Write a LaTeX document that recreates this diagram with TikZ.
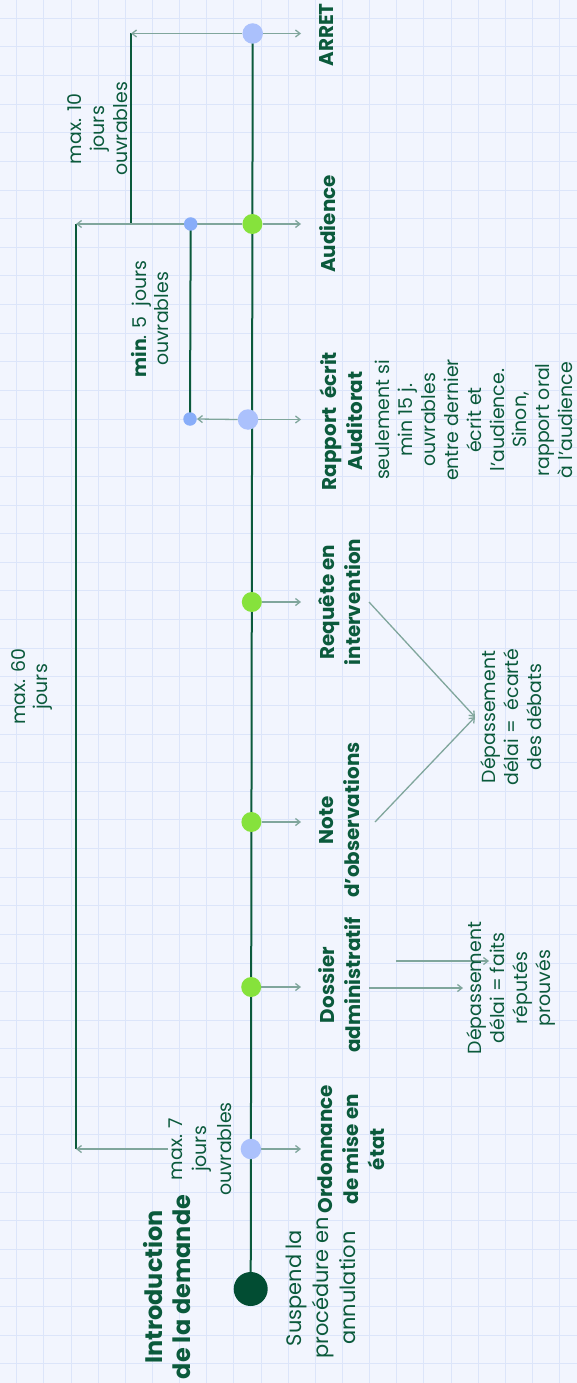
\documentclass[tikz,border=0pt]{standalone}
\usepackage{fontspec}
\setmainfont{Poppins}
\usetikzlibrary{arrows.meta}
\definecolor{bgc}{HTML}{F2F5FE}
\definecolor{gridc}{HTML}{DCE5FA}
\definecolor{dgreen}{HTML}{0B5A3C}
\definecolor{introc}{HTML}{024D33}
\definecolor{lgreen}{HTML}{86E23C}
\definecolor{lblue}{HTML}{ABC1FC}
\definecolor{sblue}{HTML}{88ADF9}
\definecolor{arrc}{HTML}{80A69C}
\pgfdeclarelayer{gridlayer}
\pgfdeclarelayer{linelayer}
\pgfsetlayers{gridlayer,linelayer,main}
\begin{document}
\begin{tikzpicture}[x=1bp,y=-1bp,
  lbl/.style={rotate=90, align=center, text=dgreen, inner sep=0pt, font=\fontsize{20}{26}\selectfont\bfseries},
  txt/.style={rotate=90, align=center, text=dgreen, inner sep=0pt, font=\fontsize{19}{23}\selectfont},
  introdot/.style={circle, fill=introc, inner sep=0pt, minimum size=34bp},
  gdot/.style={circle, fill=lgreen, inner sep=0pt, minimum size=20bp},
  bdot/.style={circle, fill=lblue, inner sep=0pt, minimum size=20.5bp},
  sdot/.style={circle, fill=sblue, inner sep=0pt, minimum size=13.5bp},
  tline/.style={draw=dgreen, line width=2bp},
  arr/.style={draw=arrc, line width=1.3bp, -{Straight Barb[length=4.5bp,width=7bp]}}
]
\useasboundingbox (0,0) rectangle (577,1383);
\begin{pgfonlayer}{gridlayer}
\fill[bgc] (0,0) rectangle (577,1383);
\foreach \i in {0,...,21} \draw[gridc, line width=1bp] ({16.7+27.15*\i},0) -- ++(0,1383);
\foreach \j in {0,...,48} \draw[gridc, line width=1bp] (0,{18.3+28.63*\j}) -- ++(577,0);
\end{pgfonlayer}

% dots on the timeline
\node[introdot] (intro) at (250.7,1289) {};
\node[bdot] (dord) at (250.9,1149) {};
\node[gdot] (ddos) at (251.2,987) {};
\node[gdot] (dnote) at (251.4,822) {};
\node[gdot] (dreq) at (251.8,602) {};
\node[bdot] (drap) at (248,419.5) {};
\node[gdot] (daud) at (252.4,224) {};
\node[bdot] (darr) at (252.7,33.5) {};
\node[sdot] (s1) at (190.7,224) {};
\node[sdot] (s2) at (190,419) {};

% labels
\node[lbl, font=\fontsize{24}{29}\selectfont\bfseries] (lint) at (167,1287) {Introduction\\de la demande};
\node[txt, font=\fontsize{21}{27}\selectfont] (lsus) at (321,1288) {Suspend la\\procédure en\\annulation};
\node[lbl] (lord) at (351,1149) {Ordonnance\\de mise en\\état};
\node[lbl] (ldos) at (340,985) {Dossier\\administratif};
\node[lbl] (lnote) at (340,820) {Note\\d’observations};
\node[lbl] (lreq) at (340,602) {Requête en\\intervention};
\node[lbl] (lrap) at (341,421) {Rapport~~écrit\\Auditorat};
\node[lbl] (laud) at (327.5,224) {Audience};
\node[lbl] (larr) at (326.5,35) {ARRET};
\node[txt, font=\fontsize{19}{23}\selectfont] (lseul) at (474,420) {seulement si\\min 15 j.\\ouvrables\\entre dernier\\écrit et\\l’audience.\\Sinon,\\rapport oral\\à l’audience};
\node[txt] (ddeb) at (511,717) {Dépassement\\délai =~~écarté\\des débats};
\node[txt] (dfai) at (511,988) {Dépassement\\délai = faits\\réputés\\prouvés};
\node[txt] (m60) at (32,687) {max. 60\\jours};
\node[txt] (m10) at (98,129) {max. 10\\jours\\ouvrables};
\node[txt, font=\fontsize{19}{24.5}\selectfont] (m7) at (200,1149) {max. 7\\jours\\ouvrables};
\node[txt] (m5) at (150,319) {\textbf{min}. 5~~jours\\ouvrables};

% named coordinates
\coordinate (b60t) at (76,224);
\coordinate (b60b) at (76,1148.5);
\coordinate (b10t) at (131,33.5);
\coordinate (b10b) at (131,224);
\coordinate (rx) at (301,0);
\coordinate (c1) at (369,602);
\coordinate (c2) at (375,822);
\coordinate (ct) at (475,717);
\coordinate (f1s) at (369,988);
\coordinate (f1e) at (463,988);
\coordinate (f2s) at (396,961);
\coordinate (f2e) at (489,961);

\begin{pgfonlayer}{linelayer}
\draw[tline] (intro.center) -- (darr.center);
\draw[tline] (b60t) -- (b60b);
\draw[tline] (b10t) -- (b10b);
\draw[tline] (s1.center) -- (s2.center);
\draw[arr] (m7.north) -- (m7.north -| b60b);
\draw[arr] (daud.west) -- (b60t);
\draw[arr] (darr.west) -- (b10t);
\draw[arr] (drap.west) -- (s2.east);
\foreach \d in {darr,daud,drap,dreq,dnote,ddos,dord}
  \draw[arr] (\d.east) -- (\d.east -| rx);
\draw[arr] (c1) -- (ct);
\draw[arr] (c2) -- (ct);
\draw[arr] (f1s) -- (f1e);
\draw[arr] (f2s) -- (f2e);
\end{pgfonlayer}
\end{tikzpicture}
\end{document}
